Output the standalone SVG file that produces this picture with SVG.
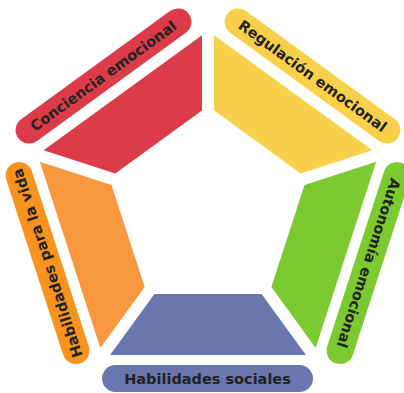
<svg xmlns="http://www.w3.org/2000/svg" xmlns:xlink="http://www.w3.org/1999/xlink" width="404" height="393" viewBox="0 0 404 393">
<style>
.lbl{font-family:"DejaVu Sans","Liberation Sans",sans-serif;font-weight:bold;font-size:14.5px;fill:#222;text-anchor:middle}
.red{fill:#DC3C4A}
.yel{fill:#F9D04A}
.grn{fill:#7BCB30}
.blu{fill:#6A76AE}
.org{fill:#F7983E}
.orgp{fill:#F8931D}
</style>
<defs>
<polygon id="seg" points="-53.6,84 53.6,84 97.9,145 -97.9,145"/>
<rect id="pill" x="-105.5" y="-13.5" width="211" height="27" rx="13.5"/>
</defs>
<rect width="404" height="393" fill="#fff"/>
<g id="connectors"/>
<g id="node-sociales">
<use xlink:href="#seg" class="blu" transform="translate(208,210)"/>
<g transform="translate(207.5,378.5)">
<use xlink:href="#pill" class="blu"/>
<text class="lbl" y="5">Habilidades sociales</text>
</g>
</g>
<g id="node-vida">
<use xlink:href="#seg" class="org" transform="translate(208,210) rotate(72)"/>
<g transform="translate(47.5,263) rotate(-108)">
<use xlink:href="#pill" class="orgp"/>
<text class="lbl" y="5">Habilidades para la vida</text>
</g>
</g>
<g id="node-conciencia">
<use xlink:href="#seg" class="red" transform="translate(208,210) rotate(144)"/>
<g transform="translate(103.5,76) rotate(-36)">
<use xlink:href="#pill" class="red"/>
<text class="lbl" y="5">Conciencia emocional</text>
</g>
</g>
<g id="node-regulacion">
<use xlink:href="#seg" class="yel" transform="translate(208,210) rotate(216)"/>
<g transform="translate(312.5,76) rotate(36)">
<use xlink:href="#pill" class="yel"/>
<text class="lbl" y="5">Regulación emocional</text>
</g>
</g>
<g id="node-autonomia">
<use xlink:href="#seg" class="grn" transform="translate(208,210) rotate(288)"/>
<g transform="translate(368.5,263) rotate(108)">
<use xlink:href="#pill" class="grn"/>
<text class="lbl" y="5">Autonomía emocional</text>
</g>
</g>
</svg>
